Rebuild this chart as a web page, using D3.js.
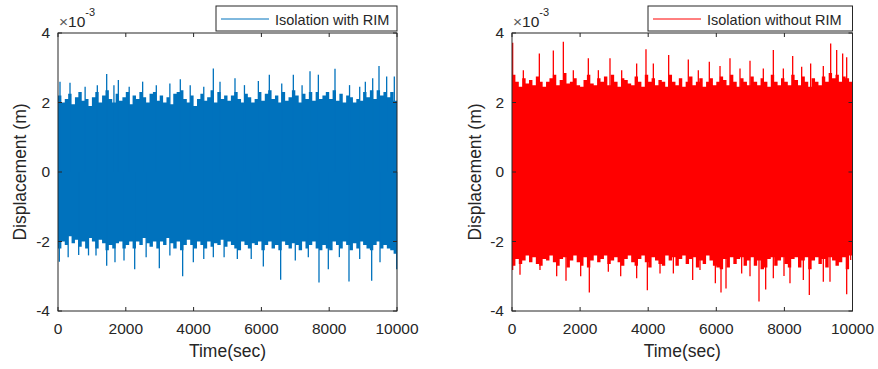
<!DOCTYPE html>
<html>
<head>
<meta charset="utf-8">
<script src="https://cdn.jsdelivr.net/npm/d3@7"></script>
<style>
  body { margin: 0; background: #fff; }
  text { font-family: Arial, "Liberation Sans", sans-serif; fill: #262626; }
</style>
</head>
<body>
<svg width="878" height="369"></svg>
<script>
// valori, in unitati de 1e-3 m
// marginea benzii dense, cate o valoare pe fereastra de 100 s (0..10000 s)
let blueEdgeHi = [2.2, 2.0, 2.1, 2.25, 1.95, 2.15, 2.3, 2.05, 2.1, 1.9,
    2.15, 2.3, 2.0, 2.2, 2.35, 2.1, 2.0, 2.25, 2.05, 2.15,
    2.3, 1.95, 2.2, 2.1, 2.3, 2.15, 2.0, 2.25, 2.3, 2.05,
    2.2, 2.0, 2.15, 1.95, 2.25, 2.3, 2.35, 2.1, 2.0, 2.2,
    1.9, 2.1, 2.25, 2.05, 2.15, 2.35, 2.0, 2.3, 2.1, 2.2,
    2.05, 2.2, 2.3, 2.1, 2.0, 2.25, 2.15, 2.0, 2.1, 2.3,
    2.05, 2.25, 2.35, 2.1, 2.2, 2.0, 2.3, 2.05, 2.15, 2.35,
    2.2, 2.0, 2.25, 2.1, 2.3, 2.05, 2.3, 2.1, 2.2, 2.3,
    2.1, 2.35, 2.05, 2.25, 2.0, 2.2, 2.15, 2.0, 2.1, 2.05,
    2.3, 2.15, 2.35, 2.1, 2.35, 2.2, 2.3, 2.15, 2.3, 2.05];
let blueEdgeLo = [-2.2, -2.0, -2.1, -1.85, -2.05, -1.95, -2.15, -2.0, -2.2, -1.9,
    -2.0, -2.2, -1.95, -2.05, -2.25, -2.1, -2.2, -2.05, -2.0, -2.2,
    -2.1, -2.0, -2.2, -2.0, -2.1, -1.9, -2.05, -2.15, -2.0, -2.2,
    -2.0, -2.1, -1.9, -2.05, -2.2, -2.0, -2.25, -2.1, -1.95, -2.1,
    -2.2, -2.0, -2.1, -2.2, -2.0, -2.15, -2.05, -2.1, -1.95, -2.15,
    -2.0, -2.1, -2.2, -2.25, -2.0, -2.1, -2.2, -2.05, -2.1, -2.0,
    -2.25, -2.1, -2.0, -2.2, -2.1, -2.25, -2.0, -2.1, -2.2, -2.05,
    -2.1, -2.25, -2.0, -2.2, -2.1, -2.0, -2.2, -2.25, -2.1, -2.2,
    -2.25, -2.0, -2.1, -2.2, -2.0, -2.1, -2.25, -2.05, -2.2, -2.0,
    -2.1, -2.2, -2.25, -2.1, -2.0, -2.2, -2.1, -2.2, -2.25, -2.35];
let redEdgeHi = [2.8, 2.6, 2.45, 2.7, 2.55, 2.65, 2.5, 2.75, 2.6, 2.45,
    2.6, 2.7, 2.8, 2.5, 2.65, 2.85, 2.55, 2.6, 2.7, 2.5,
    2.45, 2.65, 2.8, 2.55, 2.5, 2.7, 2.6, 2.75, 2.5, 2.8,
    2.6, 2.45, 2.7, 2.65, 2.55, 2.5, 2.75, 2.6, 2.45, 2.8,
    2.6, 2.7, 2.5, 2.65, 2.6, 2.45, 2.8, 2.6, 2.5, 2.7,
    2.45, 2.6, 2.75, 2.5, 2.6, 2.7, 2.45, 2.6, 2.7, 2.5,
    2.6, 2.75, 2.65, 2.5, 2.8, 2.6, 2.45, 2.7, 2.6, 2.5,
    2.75, 2.6, 2.5, 2.7, 2.6, 2.45, 2.8, 2.6, 2.5, 2.7,
    2.6, 2.5, 2.8, 2.65, 2.5, 2.75, 2.6, 2.45, 2.7, 2.6,
    2.5, 2.75, 2.6, 2.85, 2.7, 2.8, 2.6, 2.75, 2.7, 2.6];
let redEdgeLo = [-2.7, -2.5, -2.65, -2.55, -2.4, -2.6, -2.45, -2.65, -2.7, -2.5,
    -2.55, -2.4, -2.6, -2.7, -2.5, -2.45, -2.75, -2.55, -2.4, -2.6,
    -2.7, -2.45, -2.75, -2.55, -2.4, -2.6, -2.5, -2.4, -2.65, -2.55,
    -2.45, -2.6, -2.7, -2.5, -2.4, -2.6, -2.7, -2.5, -2.4, -2.6,
    -2.75, -2.45, -2.55, -2.65, -2.7, -2.4, -2.55, -2.45, -2.7, -2.5,
    -2.4, -2.65, -2.5, -2.45, -2.75, -2.55, -2.65, -2.4, -2.55, -2.7,
    -2.75, -2.8, -2.5, -2.75, -2.45, -2.65, -2.5, -2.45, -2.7, -2.55,
    -2.45, -2.7, -2.55, -2.8, -2.75, -2.5, -2.45, -2.7, -2.55, -2.45,
    -2.65, -2.75, -2.5, -2.45, -2.75, -2.55, -2.45, -2.8, -2.55, -2.45,
    -2.65, -2.5, -2.75, -2.45, -2.55, -2.7, -2.6, -2.45, -2.8, -2.4];

// varfurile izolate: [timp (s), valoare]
let blueSpikesUp = [[59, 2.6], [354, 2.57], [800, 2.45], [1160, 2.5], [1436, 2.82], [1650, 2.5],
    [1780, 2.65], [2100, 2.45], [2497, 2.6], [2900, 2.5], [3300, 2.55], [3608, 2.67],
    [3900, 2.5], [4300, 2.45], [4582, 2.98], [4779, 2.6], [5221, 2.7], [5500, 2.5],
    [5910, 2.62], [6234, 2.8], [6600, 2.55], [6942, 2.8], [7200, 2.5], [7434, 2.9],
    [7680, 2.8], [8171, 2.97], [8600, 2.5], [8900, 2.45], [9066, 2.6], [9283, 2.7],
    [9469, 3.05], [9695, 2.75], [9921, 2.75]];
let blueSpikesDown = [[39, -2.58], [300, -2.45], [610, -2.39], [900, -2.4], [1121, -2.4],
    [1436, -2.7], [1681, -2.6], [1947, -2.55], [2262, -2.8], [2600, -2.45], [2989, -2.77],
    [3300, -2.4], [3677, -3.0], [3992, -2.6], [4300, -2.5], [4582, -2.45], [4900, -2.45],
    [5290, -2.5], [5700, -2.5], [6057, -2.72], [6568, -3.1], [7000, -2.55], [7384, -2.45],
    [7699, -3.18], [7974, -2.8], [8300, -2.45], [8584, -3.15], [8900, -2.5], [9253, -3.13],
    [9499, -2.6], [9990, -2.8]];
let redSpikesUp = [[20, 3.72], [333, 2.93], [803, 3.41], [1214, 3.5], [1508, 3.75], [1801, 2.93],
    [2242, 3.27], [2536, 2.93], [2878, 3.27], [3221, 2.93], [3661, 3.12], [3935, 3.53],
    [4151, 3.12], [4601, 3.37], [5178, 3.24], [5472, 2.93], [5795, 3.17], [6109, 3.05],
    [6402, 3.27], [6696, 2.98], [6990, 3.2], [7381, 2.98], [7675, 3.51], [7969, 2.98],
    [8243, 3.34], [8507, 3.03], [8771, 3.12], [9143, 3.05], [9359, 3.7], [9535, 3.51],
    [9711, 3.41], [9829, 3.3]];
let redSpikesDown = [[20, -2.82], [235, -2.96], [822, -2.82], [1312, -3.0], [1586, -3.13],
    [2017, -3.0], [2271, -3.47], [2829, -2.87], [3192, -3.0], [3661, -3.06], [3975, -3.4],
    [4347, -2.92], [4739, -2.92], [5306, -3.11], [5521, -2.82], [5972, -3.2], [6138, -3.47],
    [6285, -3.35], [6745, -2.92], [6990, -3.0], [7254, -3.73], [7450, -3.38], [7675, -3.06],
    [7988, -2.99], [8164, -3.2], [8556, -3.11], [8732, -3.54], [9143, -3.16], [9339, -3.16],
    [9829, -3.52], [9947, -2.53]];

let xTicks = [0, 2000, 4000, 6000, 8000, 10000];
let yTicks = [-4, -2, 0, 2, 4];
let legendLabels = ["Isolation with RIM", "Isolation without RIM"];

let svg = d3.select("svg");
svg.append("rect").attr("width", 878).attr("height", 369).attr("fill", "#fff");

let panels = [
    {left: 58, right: 397, hi: blueEdgeHi, lo: blueEdgeLo, up: blueSpikesUp, down: blueSpikesDown,
     color: "#0072BD", label: legendLabels[0], legLeft: 216, titleX: 26},
    {left: 512, right: 852.5, hi: redEdgeHi, lo: redEdgeLo, up: redSpikesUp, down: redSpikesDown,
     color: "#FF0000", label: legendLabels[1], legLeft: 648, titleX: 481}
];

let plotTop = 33, plotBottom = 311;

panels.forEach(function (p) {
    let x = d3.scaleLinear().domain([0, 10000]).range([p.left, p.right]);
    let y = d3.scaleLinear().domain([-4, 4]).range([plotBottom, plotTop]);

    let g = svg.append("g");

    // banda densa, in trepte de 100 s
    let band = p.hi.map(function (v, i) { return {t: i * 100, hi: v, lo: p.lo[i]}; });
    band.push({t: 10000, hi: p.hi[p.hi.length - 1], lo: p.lo[p.lo.length - 1]});
    g.append("path")
        .datum(band)
        .attr("fill", p.color)
        .attr("d", d3.area()
            .curve(d3.curveStepAfter)
            .x(function (d) { return x(d.t); })
            .y0(function (d) { return y(d.lo); })
            .y1(function (d) { return y(d.hi); }));

    // varfurile subtiri
    g.selectAll("line.spike")
        .data(p.up.concat(p.down))
        .enter()
        .append("line")
        .attr("class", "spike")
        .attr("x1", function (d) { return x(d[0]); })
        .attr("x2", function (d) { return x(d[0]); })
        .attr("y1", y(0))
        .attr("y2", function (d) { return y(d[1]); })
        .attr("stroke", p.color)
        .attr("stroke-width", 1.3);

    // axe (ticks spre interior, pe toate laturile)
    let ax = svg.append("g").attr("stroke", "#262626").attr("fill", "none");
    ax.append("rect")
        .attr("x", p.left).attr("y", plotTop)
        .attr("width", p.right - p.left).attr("height", plotBottom - plotTop);
    xTicks.forEach(function (t) {
        ax.append("line").attr("x1", x(t)).attr("x2", x(t)).attr("y1", plotBottom).attr("y2", plotBottom - 4);
        ax.append("line").attr("x1", x(t)).attr("x2", x(t)).attr("y1", plotTop).attr("y2", plotTop + 4);
    });
    yTicks.forEach(function (t) {
        ax.append("line").attr("x1", p.left).attr("x2", p.left + 4).attr("y1", y(t)).attr("y2", y(t));
        ax.append("line").attr("x1", p.right).attr("x2", p.right - 4).attr("y1", y(t)).attr("y2", y(t));
    });

    svg.selectAll(null)
        .data(xTicks)
        .enter()
        .append("text")
        .attr("x", function (d) { return x(d); })
        .attr("y", plotBottom + 23)
        .attr("text-anchor", "middle")
        .attr("font-size", 15.5)
        .text(function (d) { return d; });

    svg.selectAll(null)
        .data(yTicks)
        .enter()
        .append("text")
        .attr("x", p.left - 8)
        .attr("y", function (d) { return y(d); })
        .attr("dy", "0.35em")
        .attr("text-anchor", "end")
        .attr("font-size", 15.5)
        .text(function (d) { return d; });

    // x10^-3
    let ex = svg.append("text")
        .attr("x", p.left + 1)
        .attr("y", 27)
        .attr("font-size", 15.5);
    ex.append("tspan").attr("fill", "#595959").text("\u00d7");
    ex.append("tspan").text("10");
    ex.append("tspan").attr("font-size", 11).attr("dy", -11).text("-3");

    svg.append("text")
        .attr("x", (p.left + p.right) / 2)
        .attr("y", 357)
        .attr("text-anchor", "middle")
        .attr("font-size", 17.5)
        .text("Time(sec)");

    svg.append("text")
        .attr("transform", "translate(" + p.titleX + "," + (plotTop + plotBottom) / 2 + ") rotate(-90)")
        .attr("text-anchor", "middle")
        .attr("font-size", 17.5)
        .text("Displacement (m)");

    // legenda
    let leg = svg.append("g");
    leg.append("rect")
        .attr("x", p.legLeft).attr("y", 6)
        .attr("width", p.right - p.legLeft).attr("height", 25)
        .attr("fill", "#fff").attr("stroke", "#262626");
    leg.append("line")
        .attr("x1", p.legLeft + 5).attr("x2", p.legLeft + 53)
        .attr("y1", 19).attr("y2", 19)
        .attr("stroke", p.color).attr("stroke-width", 1);
    leg.append("text")
        .attr("x", p.legLeft + 59)
        .attr("y", 24.5)
        .attr("font-size", 14.5)
        .text(p.label);
});
</script>
</body>
</html>
